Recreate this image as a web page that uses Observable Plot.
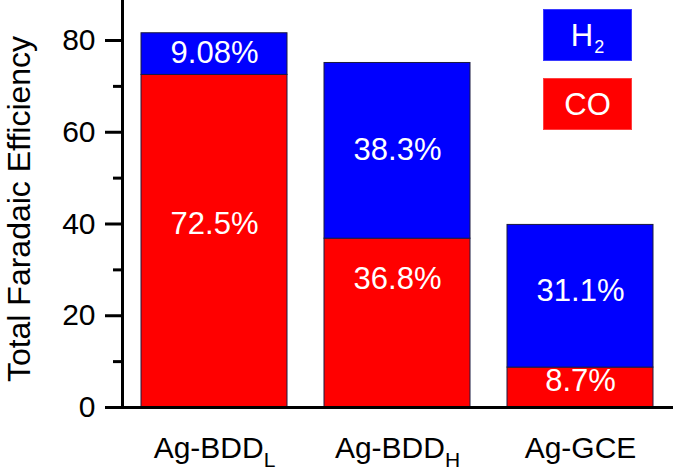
<!DOCTYPE html>
<html>
<head>
<meta charset="utf-8">
<script src="https://cdn.jsdelivr.net/npm/d3@7"></script>
<script src="https://cdn.jsdelivr.net/npm/@observablehq/plot@0.6"></script>
<style>
  html, body { margin: 0; padding: 0; background: #fff; }
  #wrap { position: relative; width: 675px; height: 471px; font-family: "Liberation Sans", Arial, sans-serif; }
  .leg { position: absolute; display: flex; align-items: center; justify-content: center;
         color: #fff; font-size: 31px; line-height: 1; box-sizing: border-box; }
  .leg .sub { font-size: 18px; position: relative; top: 12px; margin-left: 1px; }
</style>
</head>
<body>
<div id="wrap">
  <div class="leg" style="left:543px;top:9px;width:89px;height:52px;background:#0000ff;border:1px solid #3a3aff;">H<span class="sub">2</span></div>
  <div class="leg" style="left:543px;top:78px;width:89px;height:52px;background:#ff0000;border:1px solid #ff4040;">CO</div>
</div>
<script>
const categories = ["Ag-BDD_L", "Ag-BDD_H", "Ag-GCE"];
const coValues = [72.5, 36.8, 8.7];
const h2Values = [9.08, 38.3, 31.1];
// label anchor positions in data units
const coLabelAt = [39.9, 27.9, 5.7];
const h2LabelAt = [77.3, 56.2, 25.3];
const yTicks = [0, 20, 40, 60, 80];
const yMinorTicks = [10, 30, 50, 70];
const gases = ["CO", "H2"];
const gasColors = ["#ff0000", "#0000ff"];

const rows = [];
const labels = [];
categories.forEach((c, i) => {
  rows.push({cat: c, gas: "CO", value: coValues[i]});
  rows.push({cat: c, gas: "H2", value: h2Values[i]});
  labels.push({cat: c, y: coLabelAt[i], text: coValues[i] + "%"});
  labels.push({cat: c, y: h2LabelAt[i], text: h2Values[i] + "%"});
});

const chart = Plot.plot({
  width: 675,
  height: 471,
  marginLeft: 122,
  marginRight: 2,
  marginTop: 0,
  marginBottom: 64,
  style: {fontFamily: "Liberation Sans, Arial, sans-serif", fontSize: "30px", color: "#000", background: "#fff"},
  x: {domain: categories, paddingInner: 0.2, paddingOuter: 0.1},
  y: {domain: [0, 88.72]},
  color: {domain: gases, range: gasColors},
  marks: [
    Plot.barY(rows, {x: "cat", y: "value", fill: "gas", stroke: "#1a1a40", strokeWidth: 1}),
    Plot.text(labels, {x: "cat", y: "y", text: "text", fill: "#fff", fontSize: 31}),
    Plot.axisY({ticks: yMinorTicks, tickSize: 9, strokeWidth: 3, tickFormat: () => "", label: null}),
    Plot.axisY({ticks: yTicks, tickSize: 17, strokeWidth: 3, tickPadding: 10, fontSize: 30,
                label: "Total Faradaic Efficiency", labelAnchor: "center", labelArrow: "none", labelOffset: 115}),
    Plot.axisX({tickSize: 0, tickPadding: 29, fontSize: 30, label: null}),
    Plot.ruleY([0], {strokeWidth: 3, stroke: "#000"}),
    Plot.frame({anchor: "left", strokeWidth: 3, stroke: "#000"})
  ]
});

// y-axis title: slightly larger, and nudged down as in the reference
const yLab = chart.querySelector('g[aria-label="y-axis label"]');
if (yLab) {
  yLab.setAttribute("font-size", "32");
  const tr = yLab.getAttribute("transform") || "";
  yLab.setAttribute("transform", (tr + " translate(0,5)").trim());
}

// subscripts in the x tick labels
const svgNS = "http://www.w3.org/2000/svg";
chart.querySelectorAll('g[aria-label="x-axis tick label"] text').forEach(t => {
  const parts = t.textContent.split("_");
  if (parts.length === 2) {
    t.textContent = parts[0];
    const ts = document.createElementNS(svgNS, "tspan");
    ts.setAttribute("dy", "9");
    ts.setAttribute("font-size", "21");
    ts.textContent = parts[1];
    t.appendChild(ts);
  }
});
document.getElementById("wrap").prepend(chart);
chart.style.position = "absolute";
chart.style.left = "0";
chart.style.top = "0";
</script>
</body>
</html>
